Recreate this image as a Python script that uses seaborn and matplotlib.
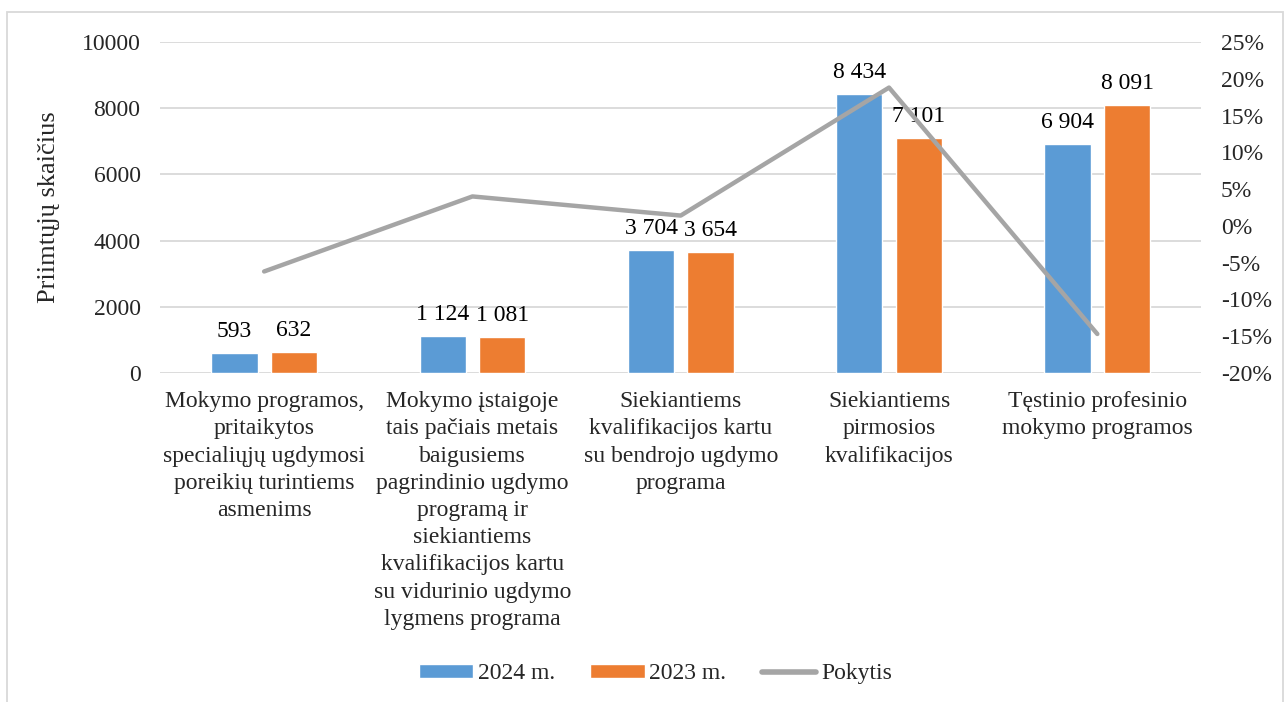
import matplotlib
matplotlib.use("Agg")
import matplotlib.pyplot as plt
import numpy as np
import pandas as pd
import seaborn as sns
from matplotlib.patches import Rectangle, Patch
from matplotlib.lines import Line2D
from matplotlib.ticker import FuncFormatter

# Duomenys
kategorijos = [
    "Mokymo programos,\npritaikytos\nspecialiųjų ugdymosi\nporeikių turintiems\nasmenims",
    "Mokymo įstaigoje\ntais pačiais metais\nbaigusiems\npagrindinio ugdymo\nprogramą ir\nsiekiantiems\nkvalifikacijos kartu\nsu vidurinio ugdymo\nlygmens programa",
    "Siekiantiems\nkvalifikacijos kartu\nsu bendrojo ugdymo\nprograma",
    "Siekiantiems\npirmosios\nkvalifikacijos",
    "Tęstinio profesinio\nmokymo programos",
]
metai_2024 = [593, 1124, 3704, 8434, 6904]
metai_2023 = [632, 1081, 3654, 7101, 8091]
pokytis = [-6.2, 4.0, 1.4, 18.8, -14.7]  # %

sns.set_theme(style="white")
plt.rcParams["font.family"] = ["Liberation Serif", "DejaVu Serif"]
plt.rcParams["font.size"] = 17

df = pd.DataFrame({
    "kategorija": kategorijos * 2,
    "metai": ["2024 m."] * 5 + ["2023 m."] * 5,
    "reiksme": metai_2024 + metai_2023,
})

spalvos = {"2024 m.": "#5B9BD5", "2023 m.": "#ED7D31"}

fig = plt.figure(figsize=(12.85, 7.02), dpi=100)
ax = fig.add_axes([0.1245, 0.4687, 0.8105, 0.4715])

sns.barplot(data=df, x="kategorija", y="reiksme", hue="metai",
            hue_order=["2024 m.", "2023 m."], palette=spalvos,
            width=0.57, gap=0.22, legend=False, ax=ax, saturation=1)

for cont in ax.containers:
    ax.bar_label(cont, labels=[f"{v:,.0f}".replace(",", " ") for v in cont.datavalues],
                 padding=8, fontsize=17, color="#000000")

ax.set_ylim(0, 10000)
ax.set_yticks(range(0, 10001, 2000))
ax.set_xlim(-0.5, 4.5)
ax.grid(axis="y", color="#D9D9D9", linewidth=1.3)
ax.set_axisbelow(True)
for s in ax.spines.values():
    s.set_visible(False)
ax.tick_params(axis="y", length=0, pad=14, labelsize=17)
ax.tick_params(axis="x", length=0, pad=13, labelsize=17)
ax.set_xlabel("")
ax.set_ylabel("Priimtųjų skaičius", fontsize=19)
ax.yaxis.set_label_coords(-0.096, 0.5)
for lbl in ax.get_xticklabels():
    lbl.set_linespacing(1.39)

# Pokytis – antroji ašis
ax2 = ax.twinx()
ax2.plot(np.arange(len(pokytis)), pokytis, color="#A5A5A5", linewidth=3.2,
         solid_capstyle="round", solid_joinstyle="round")
ax2.set_ylim(-20, 25)
ax2.set_yticks(range(-20, 26, 5))
ax2.yaxis.set_major_formatter(FuncFormatter(lambda v, p: f"{v:.0f}%"))
for s in ax2.spines.values():
    s.set_visible(False)
ax2.tick_params(axis="y", length=0, pad=14, labelsize=17)

# Legenda
rankenos = [
    Patch(facecolor=spalvos["2024 m."], label="2024 m."),
    Patch(facecolor=spalvos["2023 m."], label="2023 m."),
    Line2D([0], [0], color="#A5A5A5", linewidth=4, solid_capstyle="round", label="Pokytis"),
]
fig.legend(handles=rankenos, loc="center", bbox_to_anchor=(0.51, 0.04), ncol=3,
           frameon=False, fontsize=17, handlelength=2.3, handleheight=0.5,
           columnspacing=1.5, handletextpad=0.2)

# Rėmelis
fig.patches.append(Rectangle((7 / 1285, -0.01), 1276 / 1285, 1 - 12 / 702 + 0.01,
                             transform=fig.transFigure, fill=False,
                             edgecolor="#D9D9D9", linewidth=1.3))

fig.savefig("out.png", dpi=100, facecolor="white")
